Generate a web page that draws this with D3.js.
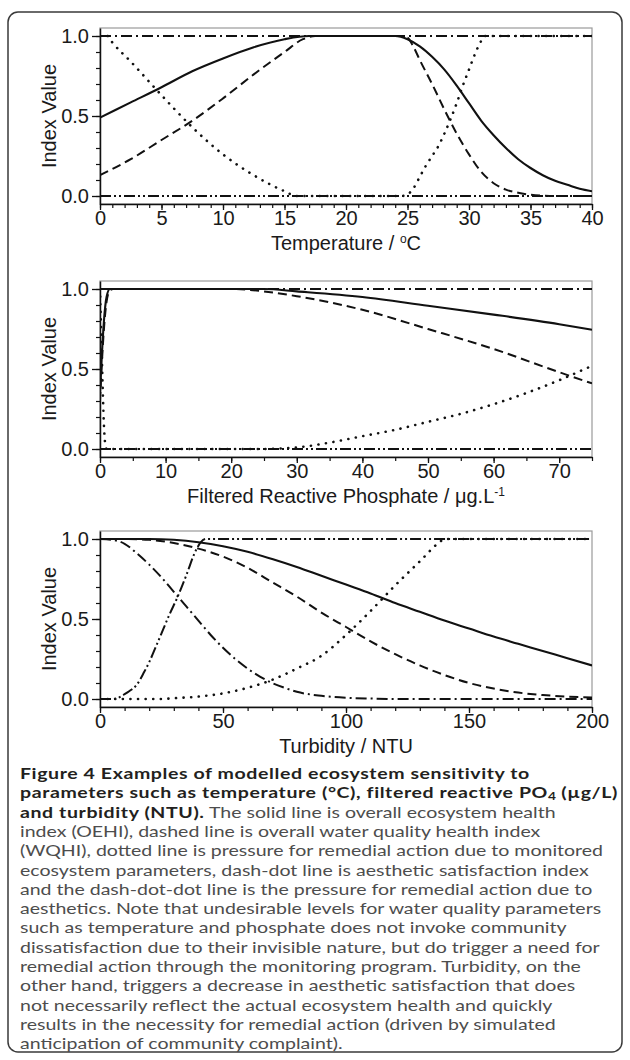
<!DOCTYPE html>
<html><head><meta charset="utf-8">
<script src="https://cdn.jsdelivr.net/npm/d3@7"></script>
<style>body{margin:0;background:#fff}svg{display:block}</style>
</head><body>
<svg id="c" width="630" height="1060"></svg>
<script>
// ---------- DATA ----------
const yTicks = [0, 0.5, 1.0];
const tempTicks = [0, 5, 10, 15, 20, 25, 30, 35, 40];
const phosTicks = [0, 10, 20, 30, 40, 50, 60, 70];
const turbTicks = [0, 50, 100, 150, 200];

// Temperature panel
const tempOEHI = [[0,0.49],[2.5,0.585],[5,0.68],[7.5,0.78],[10,0.86],[12.5,0.93],[15,0.98],[17,1.0],[24,1.0],[25,0.98],[26,0.935],[27,0.87],[28,0.79],[29,0.69],[30,0.58],[31,0.47],[32,0.38],[33,0.3],[34,0.23],[35,0.175],[36,0.13],[37,0.095],[38,0.07],[39,0.045],[40,0.03]];
const tempWQHI = [[0,0.13],[2.5,0.23],[5,0.35],[7.5,0.47],[10,0.61],[12.5,0.76],[15,0.9],[16.5,0.98],[17.5,1.0],[24.5,1.0],[25,0.99],[25.5,0.93],[26,0.85],[27,0.7],[28,0.54],[29,0.39],[30,0.26],[31,0.15],[32,0.08],[33,0.04],[34,0.02],[35,0.008],[36,0.002],[37,0],[40,0]];
const tempPressure = [[0,1],[0.6,1],[1,0.96],[2.5,0.84],[5,0.63],[7.5,0.43],[10,0.26],[12.5,0.13],[15,0.03],[16,0],[24.5,0],[25,0.01],[25.5,0.05],[26,0.12],[26.5,0.19],[27,0.25],[27.5,0.31],[28,0.39],[28.5,0.48],[29,0.58],[29.5,0.69],[30,0.79],[30.5,0.89],[31,0.97],[31.3,1.0],[40,1.0]];
const tempAesthetic = [[0,1],[40,1]];
const tempAesPressure = [[0,0],[40,0]];

// Phosphate panel
const phosOEHI = [[0,0.35],[0.3,0.6],[0.6,0.8],[1,0.95],[1.5,1.0],[25,1.0],[30,0.985],[40,0.95],[50,0.895],[60,0.84],[70,0.78],[75,0.745]];
const phosWQHI = [[0,0.3],[0.3,0.55],[0.6,0.75],[1,0.92],[1.5,0.99],[2,1.0],[20,1.0],[25,0.985],[30,0.955],[40,0.87],[50,0.75],[60,0.625],[70,0.48],[75,0.41]];
const phosPressure = [[0,1],[0.2,0.7],[0.4,0.4],[0.6,0.15],[0.8,0.03],[1,0],[24,0],[30,0.01],[35,0.04],[40,0.08],[45,0.12],[50,0.17],[55,0.22],[60,0.28],[65,0.35],[70,0.43],[75,0.52]];
const phosAesthetic = [[0,1],[75,1]];
const phosAesPressure = [[0,0],[75,0]];

// Turbidity panel
const turbOEHI = [[0,1],[20,1],[30,0.995],[40,0.98],[50,0.955],[60,0.92],[70,0.875],[80,0.825],[90,0.77],[100,0.715],[110,0.66],[120,0.6],[130,0.545],[140,0.49],[150,0.44],[160,0.39],[170,0.345],[180,0.3],[190,0.255],[200,0.21]];
const turbWQHI = [[0,1],[10,1],[20,0.995],[30,0.975],[40,0.94],[50,0.89],[60,0.82],[70,0.73],[80,0.64],[90,0.54],[100,0.45],[110,0.36],[120,0.28],[130,0.21],[140,0.15],[150,0.1],[160,0.065],[170,0.04],[180,0.025],[190,0.015],[200,0.01]];
const turbPressure = [[0,0],[25,0],[30,0.005],[40,0.015],[50,0.035],[60,0.07],[70,0.12],[80,0.19],[90,0.27],[100,0.4],[110,0.55],[120,0.71],[130,0.86],[138,0.98],[140,1],[200,1]];
const turbAesthetic = [[0,1],[5,0.995],[10,0.97],[15,0.91],[20,0.84],[25,0.76],[30,0.67],[35,0.58],[40,0.49],[45,0.4],[50,0.32],[55,0.25],[60,0.19],[65,0.14],[70,0.1],[75,0.07],[80,0.045],[90,0.02],[100,0.008],[110,0.003],[120,0],[200,0]];
const turbAesPressure = [[0,0],[5,0],[7,0.005],[10,0.03],[12,0.05],[15,0.09],[18,0.17],[20,0.23],[22.8,0.33],[25,0.41],[28,0.52],[31.6,0.64],[35,0.77],[39,0.93],[41,0.98],[43,1.0],[200,1.0]];

const captionLines = [
  [["b","Figure 4 Examples of modelled ecosystem sensitivity to"]],
  [["b","parameters such as temperature (°C), filtered reactive PO"],["bsub","4"],["b"," (µg/L)"]],
  [["b","and turbidity (NTU)."],["r"," The solid line is overall ecosystem health"]],
  [["r","index (OEHI), dashed line is overall water quality health index"]],
  [["r","(WQHI), dotted line is pressure for remedial action due to monitored"]],
  [["r","ecosystem parameters, dash-dot line is aesthetic satisfaction index"]],
  [["r","and the dash-dot-dot line is the pressure for remedial action due to"]],
  [["r","aesthetics. Note that undesirable levels for water quality parameters"]],
  [["r","such as temperature and phosphate does not invoke community"]],
  [["r","dissatisfaction due to their invisible nature, but do trigger a need for"]],
  [["r","remedial action through the monitoring program. Turbidity, on the"]],
  [["r","other hand, triggers a decrease in aesthetic satisfaction that does"]],
  [["r","not necessarily reflect the actual ecosystem health and quickly"]],
  [["r","results in the necessity for remedial action (driven by simulated"]],
  [["r","anticipation of community complaint)."]]
];

// ---------- LAYOUT ----------
const svg = d3.select('#c');
svg.append('rect').attr('x',8).attr('y',12).attr('width',614).attr('height',1040)
  .attr('rx',10).attr('fill','none').attr('stroke','#3a3a3a').attr('stroke-width',1.5);

const L = 100, R = 592;
const styles = {
  solid: null,
  dashed: '9,5',
  dotted: '0.1,7.5',
  dashdot: '11,4,2,4',
  dashdotdot: '11,3,2,3,2,3'
};
const AX_FONT = 'Liberation Sans, Arial, sans-serif';

const panels = [
  {top:28, domain:[0,40], ticks:tempTicks, minor:1,
   series:[[tempAesthetic,'dashdot'],[tempAesPressure,'dashdotdot'],[tempPressure,'dotted'],[tempWQHI,'dashed'],[tempOEHI,'solid']],
   title: t => { t.append('tspan').text('Temperature / ');
                 t.append('tspan').attr('font-size',12).attr('dy',-7).text('o');
                 t.append('tspan').attr('dy',7).text('C'); }},
  {top:281, domain:[0,75], ticks:phosTicks, minor:5,
   series:[[phosAesthetic,'dashdot'],[phosAesPressure,'dashdotdot'],[phosPressure,'dotted'],[phosWQHI,'dashed'],[phosOEHI,'solid']],
   title: t => { t.append('tspan').text('Filtered Reactive Phosphate / μg.L');
                 t.append('tspan').attr('font-size',12).attr('dy',-7).text('-1'); }},
  {top:531, domain:[0,200], ticks:turbTicks, minor:10,
   series:[[turbAesthetic,'dashdot'],[turbAesPressure,'dashdotdot'],[turbPressure,'dotted'],[turbWQHI,'dashed'],[turbOEHI,'solid']],
   title: t => { t.text('Turbidity / NTU'); }}
];

panels.forEach(p => {
  const H = 176;
  const bottom = p.top + H;
  const x = d3.scaleLinear().domain(p.domain).range([L, R]);
  const y = d3.scaleLinear().domain([-0.05, 1.05]).range([bottom, p.top]);
  const g = svg.append('g');

  g.append('rect').attr('x',L).attr('y',p.top).attr('width',R-L).attr('height',H)
    .attr('fill','none').attr('stroke','#9a9a9a').attr('stroke-width',1.2);

  const cid = 'clip' + p.top;
  svg.append('clipPath').attr('id',cid).append('rect')
    .attr('x',L).attr('y',p.top).attr('width',R-L).attr('height',H);

  const line = d3.line().x(d => x(d[0])).y(d => y(d[1])).curve(d3.curveMonotoneX);
  const cg = g.append('g').attr('clip-path','url(#'+cid+')');
  p.series.forEach(([data, st]) => {
    const path = cg.append('path').datum(data).attr('d', line)
      .attr('fill','none').attr('stroke','#111').attr('stroke-width', st==='solid'?2.1:2)
      .attr('stroke-linejoin','round');
    if (styles[st]) path.attr('stroke-dasharray', styles[st]);
    if (st === 'dotted') path.attr('stroke-linecap','round').attr('stroke-width',2.6);
  });

  const xMinor = d3.range(p.domain[0], p.domain[1] + 1e-9, p.minor);
  g.append('g').attr('transform',`translate(0,${bottom})`)
    .call(d3.axisBottom(x).tickValues(xMinor).tickSize(4).tickFormat('').tickSizeOuter(0))
    .call(a => a.select('.domain').remove())
    .selectAll('line').attr('stroke','#111').attr('stroke-width',1.2);
  const yMinor = d3.range(0, 1.0001, 0.1);
  g.append('g').attr('transform',`translate(${L},0)`)
    .call(d3.axisLeft(y).tickValues(yMinor).tickSize(4).tickFormat('').tickSizeOuter(0))
    .call(a => a.select('.domain').remove())
    .selectAll('line').attr('stroke','#111').attr('stroke-width',1.2);

  const xa = g.append('g').attr('transform',`translate(0,${bottom})`)
    .call(d3.axisBottom(x).tickValues(p.ticks).tickSize(6).tickPadding(1).tickSizeOuter(0).tickFormat(d3.format('d')));
  const ya = g.append('g').attr('transform',`translate(${L},0)`)
    .call(d3.axisLeft(y).tickValues(yTicks).tickSize(8).tickPadding(3).tickSizeOuter(0).tickFormat(d3.format('.1f')));
  [xa, ya].forEach(a => {
    a.select('.domain').attr('stroke','#111').attr('stroke-width',1.5);
    a.selectAll('line').attr('stroke','#111').attr('stroke-width',1.3);
    a.selectAll('text').attr('font-family',AX_FONT).attr('font-size',20).attr('fill','#1a1a1a');
  });

  const t = g.append('text').attr('x',(L+R)/2).attr('y',bottom+46)
    .attr('text-anchor','middle').attr('font-family',AX_FONT).attr('font-size',20).attr('fill','#1a1a1a');
  p.title(t);
  g.append('text').attr('transform',`translate(56,${y(0.5)}) rotate(-90)`)
    .attr('text-anchor','middle').attr('font-family',AX_FONT).attr('font-size',20).attr('fill','#1a1a1a')
    .text('Index Value');
});

// ---------- CAPTION ----------
const CAP_FONT = 'Lato, "Open Sans", sans-serif';
const cap = svg.append('g');
const capX = 20, capY0 = 779, capDY = 19.3;
const FS = 16;
function measure(txt, weight) {
  const pr = cap.append('text').attr('font-family',CAP_FONT).attr('font-size',FS)
    .attr('font-weight',weight).text(txt);
  const w = pr.node().getComputedTextLength(); pr.remove(); return w;
}
// horizontal stretch so the widest regular line spans ~580px (reference face is wider)
const refR = 'dissatisfaction due to their invisible nature, but do trigger a need for';
const sx = 580 / measure(refR, 400);
// bold: letter spacing so that line 1 spans ~510px after stretch
const refB = 'Figure 4 Examples of modelled ecosystem sensitivity to';
const lsB = (510 / sx - measure(refB, 700)) / (refB.length - 1);

captionLines.forEach((parts, i) => {
  const t = cap.append('text')
    .attr('transform',`translate(${capX},${capY0 + i*capDY}) scale(${sx},1)`)
    .attr('font-family',CAP_FONT).attr('font-size',FS);
  parts.forEach(([k, s]) => {
    const ts = t.append('tspan').text(s);
    if (k === 'b') ts.attr('font-weight',700).attr('fill','#231f20').attr('letter-spacing',lsB);
    else if (k === 'bsub') ts.attr('font-weight',700).attr('font-size',FS*0.7).attr('fill','#231f20').attr('baseline-shift','-20%');
    else ts.attr('font-weight',400).attr('fill','#4d4d4d');
  });
});
</script>
</body></html>
